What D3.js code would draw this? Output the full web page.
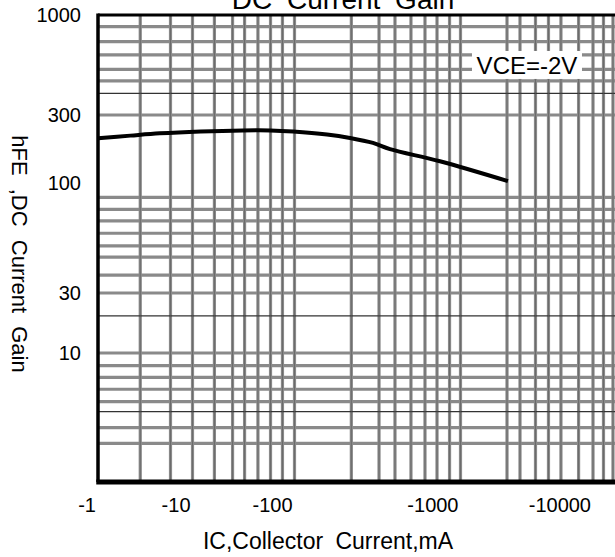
<!DOCTYPE html>
<html>
<head>
<meta charset="utf-8">
<script src="https://cdn.jsdelivr.net/npm/d3@7"></script>
<style>
  body { margin: 0; background: #fff; }
  text { font-family: "Liberation Sans", Arial, sans-serif; fill: #000; }
</style>
</head>
<body>
<script>
// collector current (mA) and DC current gain
let icValues = [-1, -2.2, -4.5, -12, -31, -58, -97, -157, -216, -297, -376, -752, -2280];
let hfeValues = [206, 215, 223, 230, 234, 234, 230, 219, 207, 191, 173, 142, 103];

// labelled ticks
let xTicks = [-1, -10, -100, -1000, -10000];
let yTicks = [10, 30, 100, 300, 1000];

// the printed grid is not a clean log grid, these are the values where its lines sit
let xGrid = [-2.8, -5.85, -10, -16.4, -24.7, -32.4, -43.8, -58.2, -76.2, -100, -220, -323, -403,
    -503, -611, -722, -859, -1000, -2244, -2812, -3681, -4613, -5728, -7783, -10000, -12000, -14150];
let yGrid = [869, 725, 618, 520, 452, 300, 85.5, 75, 66, 57.7, 50.2, 44.4, 36.5, 30,
    10, 7.93, 6.41, 5.15, 4.1, 2.55, 1.91];
let yThin = [389, 19.7, 3.42];

let width = 615,
    height = 557,
    plotLeft = 98,
    plotTop = 15,
    plotBottom = 482,
    plotRight = 625;

let svg = d3.select("body").append("svg")
    .attr("width", width)
    .attr("height", height);

let x = d3.scaleLog()
    .domain(xTicks)
    .range([98, 192.5, 294.5, 460.5, 593]);

let y = d3.scaleLog()
    .domain(yTicks)
    .range([353, 293, 183, 115, 15]);

let grid = svg.append("g");

grid.selectAll(".vg")
    .data(xGrid)
    .enter().append("line")
    .attr("x1", d => x(d)).attr("x2", d => x(d))
    .attr("y1", plotTop).attr("y2", plotBottom)
    .attr("stroke", "#8a8a8a")
    .attr("stroke-width", 3.2);

grid.selectAll(".hg")
    .data(yGrid)
    .enter().append("line")
    .attr("x1", plotLeft).attr("x2", plotRight)
    .attr("y1", d => y(d)).attr("y2", d => y(d))
    .attr("stroke", "#8a8a8a")
    .attr("stroke-width", 3.2);

grid.selectAll(".ht")
    .data(yThin)
    .enter().append("line")
    .attr("x1", plotLeft).attr("x2", plotRight)
    .attr("y1", d => y(d)).attr("y2", d => y(d))
    .attr("stroke", "#333")
    .attr("stroke-width", 1.2);

// thin dark core on the grid lines
grid.selectAll(".vc")
    .data(xGrid)
    .enter().append("line")
    .attr("x1", d => x(d)).attr("x2", d => x(d))
    .attr("y1", plotTop).attr("y2", plotBottom)
    .attr("stroke", "#555")
    .attr("stroke-width", 0.6);

// frame
svg.append("line")
    .attr("x1", plotLeft).attr("x2", plotRight)
    .attr("y1", plotTop).attr("y2", plotTop)
    .attr("stroke", "#000").attr("stroke-width", 3);
svg.append("line")
    .attr("x1", plotLeft).attr("x2", plotLeft)
    .attr("y1", plotTop - 1.5).attr("y2", plotBottom)
    .attr("stroke", "#000").attr("stroke-width", 3.5);
svg.append("line")
    .attr("x1", plotLeft - 1.75).attr("x2", plotRight)
    .attr("y1", plotBottom).attr("y2", plotBottom)
    .attr("stroke", "#000").attr("stroke-width", 5);

// curve
let line = d3.line()
    .x((d, i) => x(icValues[i]))
    .y(d => y(d))
    .curve(d3.curveCatmullRom);

svg.append("path")
    .datum(hfeValues)
    .attr("d", line)
    .attr("fill", "none")
    .attr("stroke", "#000")
    .attr("stroke-width", 4);

// tick labels
svg.selectAll(".xt")
    .data(xTicks)
    .enter().append("text")
    .attr("x", d => x(d) - 2)
    .attr("y", 512)
    .attr("text-anchor", "end")
    .style("font-size", "20px")
    .text(d => String(d));

svg.selectAll(".yt")
    .data(yTicks)
    .enter().append("text")
    .attr("x", 81)
    .attr("y", d => y(d))
    .attr("dy", "0.36em")
    .attr("text-anchor", "end")
    .style("font-size", "20px")
    .text(d => String(d));

// annotation
let note = svg.append("g").attr("transform", "translate(" + x(-3175) + "," + y(548) + ")");
note.append("rect")
    .attr("x", -55).attr("y", -14)
    .attr("width", 110).attr("height", 28)
    .attr("fill", "#fff");
note.append("text")
    .attr("text-anchor", "middle")
    .attr("dy", "0.36em")
    .style("font-size", "24px")
    .text("VCE=-2V");

// titles
svg.append("text")
    .attr("x", 343).attr("y", 9)
    .attr("text-anchor", "middle")
    .style("font-size", "28px")
    .style("word-spacing", "7px")
    .text("DC Current Gain");

svg.append("text")
    .attr("x", 328).attr("y", 549)
    .attr("text-anchor", "middle")
    .style("font-size", "23px")
    .style("word-spacing", "6px")
    .text("IC,Collector Current,mA");

svg.append("text")
    .attr("transform", "translate(12,254) rotate(90)")
    .attr("text-anchor", "middle")
    .style("font-size", "22px")
    .style("word-spacing", "7px")
    .text("hFE ,DC Current Gain");
</script>
</body>
</html>
